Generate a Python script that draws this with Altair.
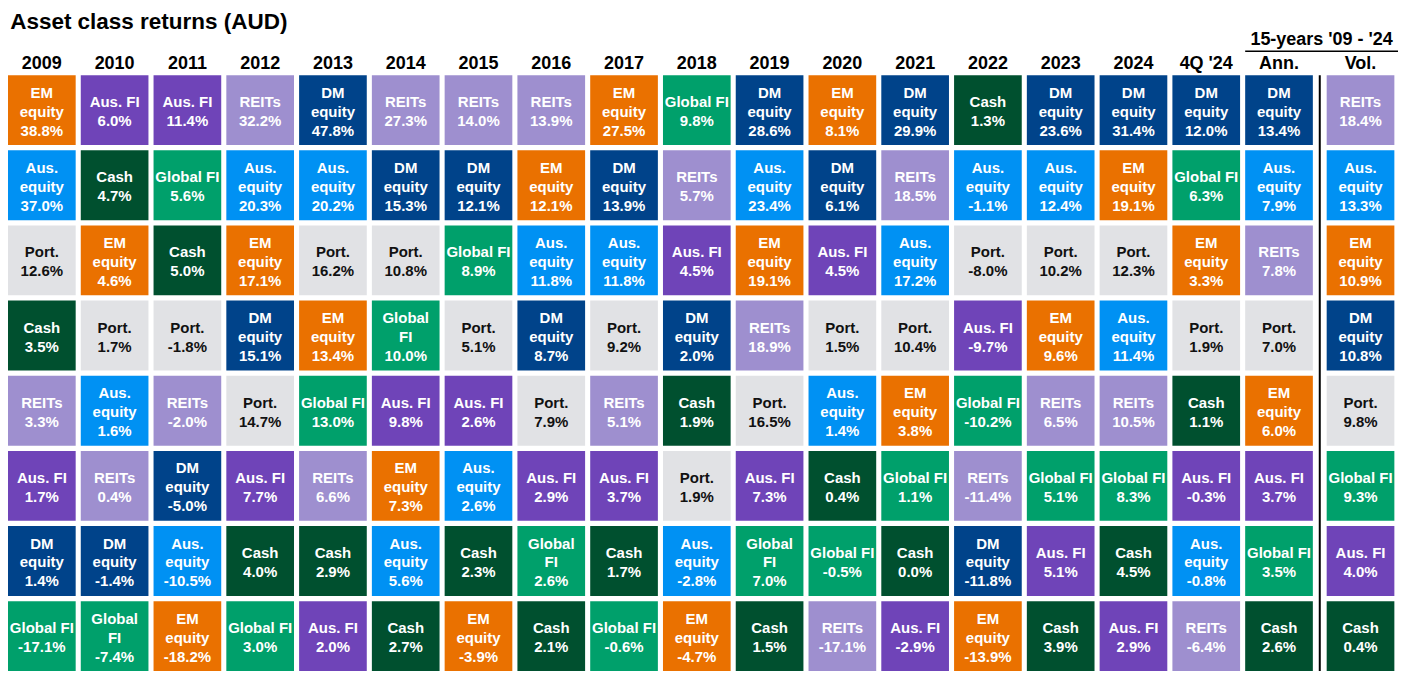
import altair as alt
import pandas as pd

columns = ["2009", "2010", "2011", "2012", "2013", "2014", "2015", "2016", "2017",
           "2018", "2019", "2020", "2021", "2022", "2023", "2024", "4Q '24", "Ann.", "Vol."]

classes = [
    ["EM equity", "Aus. equity", "Port.", "Cash", "REITs", "Aus. FI", "DM equity", "Global FI"],
    ["Aus. FI", "Cash", "EM equity", "Port.", "Aus. equity", "REITs", "DM equity", "Global FI"],
    ["Aus. FI", "Global FI", "Cash", "Port.", "REITs", "DM equity", "Aus. equity", "EM equity"],
    ["REITs", "Aus. equity", "EM equity", "DM equity", "Port.", "Aus. FI", "Cash", "Global FI"],
    ["DM equity", "Aus. equity", "Port.", "EM equity", "Global FI", "REITs", "Cash", "Aus. FI"],
    ["REITs", "DM equity", "Port.", "Global FI", "Aus. FI", "EM equity", "Aus. equity", "Cash"],
    ["REITs", "DM equity", "Global FI", "Port.", "Aus. FI", "Aus. equity", "Cash", "EM equity"],
    ["REITs", "EM equity", "Aus. equity", "DM equity", "Port.", "Aus. FI", "Global FI", "Cash"],
    ["EM equity", "DM equity", "Aus. equity", "Port.", "REITs", "Aus. FI", "Cash", "Global FI"],
    ["Global FI", "REITs", "Aus. FI", "DM equity", "Cash", "Port.", "Aus. equity", "EM equity"],
    ["DM equity", "Aus. equity", "EM equity", "REITs", "Port.", "Aus. FI", "Global FI", "Cash"],
    ["EM equity", "DM equity", "Aus. FI", "Port.", "Aus. equity", "Cash", "Global FI", "REITs"],
    ["DM equity", "REITs", "Aus. equity", "Port.", "EM equity", "Global FI", "Cash", "Aus. FI"],
    ["Cash", "Aus. equity", "Port.", "Aus. FI", "Global FI", "REITs", "DM equity", "EM equity"],
    ["DM equity", "Aus. equity", "Port.", "EM equity", "REITs", "Global FI", "Aus. FI", "Cash"],
    ["DM equity", "EM equity", "Port.", "Aus. equity", "REITs", "Global FI", "Cash", "Aus. FI"],
    ["DM equity", "Global FI", "EM equity", "Port.", "Cash", "Aus. FI", "Aus. equity", "REITs"],
    ["DM equity", "Aus. equity", "REITs", "Port.", "EM equity", "Aus. FI", "Global FI", "Cash"],
    ["REITs", "Aus. equity", "EM equity", "DM equity", "Port.", "Global FI", "Aus. FI", "Cash"],
]

values = [
    [38.8, 37.0, 12.6, 3.5, 3.3, 1.7, 1.4, -17.1],
    [6.0, 4.7, 4.6, 1.7, 1.6, 0.4, -1.4, -7.4],
    [11.4, 5.6, 5.0, -1.8, -2.0, -5.0, -10.5, -18.2],
    [32.2, 20.3, 17.1, 15.1, 14.7, 7.7, 4.0, 3.0],
    [47.8, 20.2, 16.2, 13.4, 13.0, 6.6, 2.9, 2.0],
    [27.3, 15.3, 10.8, 10.0, 9.8, 7.3, 5.6, 2.7],
    [14.0, 12.1, 8.9, 5.1, 2.6, 2.6, 2.3, -3.9],
    [13.9, 12.1, 11.8, 8.7, 7.9, 2.9, 2.6, 2.1],
    [27.5, 13.9, 11.8, 9.2, 5.1, 3.7, 1.7, -0.6],
    [9.8, 5.7, 4.5, 2.0, 1.9, 1.9, -2.8, -4.7],
    [28.6, 23.4, 19.1, 18.9, 16.5, 7.3, 7.0, 1.5],
    [8.1, 6.1, 4.5, 1.5, 1.4, 0.4, -0.5, -17.1],
    [29.9, 18.5, 17.2, 10.4, 3.8, 1.1, 0.0, -2.9],
    [1.3, -1.1, -8.0, -9.7, -10.2, -11.4, -11.8, -13.9],
    [23.6, 12.4, 10.2, 9.6, 6.5, 5.1, 5.1, 3.9],
    [31.4, 19.1, 12.3, 11.4, 10.5, 8.3, 4.5, 2.9],
    [12.0, 6.3, 3.3, 1.9, 1.1, -0.3, -0.8, -6.4],
    [13.4, 7.9, 7.8, 7.0, 6.0, 3.7, 3.5, 2.6],
    [18.4, 13.3, 10.9, 10.8, 9.8, 9.3, 4.0, 0.4],
]

# columns where the "Global FI" label wraps onto two lines
split_global = ["2010", "2014", "2016", "2019"]

class_names = ["EM equity", "Aus. equity", "DM equity", "Aus. FI", "REITs",
               "Cash", "Global FI", "Port."]
class_colors = ["#EA7100", "#0091F3", "#00438A", "#6F44B8", "#9E8FCF",
                "#00502F", "#00A06B", "#E1E2E5"]
short_labels = {"EM equity": "EM\nequity", "DM equity": "DM\nequity",
                "Aus. equity": "Aus.\nequity"}

PITCH_W = 0.93
PITCH_H = 0.93
ROW_PX = 75.2
LINE_PX = 19

rows = []
heads = []
for ci, col in enumerate(columns):
    pos = ci if col != "Vol." else ci + 0.12
    heads.append({"x": pos + PITCH_W / 2, "label": col})
    for ri, (cls, val) in enumerate(zip(classes[ci], values[ci])):
        name = short_labels.get(cls, cls)
        if cls == "Global FI" and col in split_global:
            name = "Global\nFI"
        label = f"{name}\n{val:.1f}%"
        nlines = label.count("\n") + 1
        rows.append({
            "col": col, "cls": cls, "val": val,
            "x0": pos, "x1": pos + PITCH_W,
            "y0": ri, "y1": ri + PITCH_H,
            "xc": pos + PITCH_W / 2,
            "yc": ri + PITCH_H / 2 + (1.5 - (nlines - 1) * LINE_PX / 2) / ROW_PX,
            "label": label,
            "tcolor": "#111111" if cls == "Port." else "#FFFFFF",
        })

df = pd.DataFrame(rows)
hdf = pd.DataFrame(heads)

xs = alt.Scale(domain=[0, 19.1], nice=False, zero=False)
ys = alt.Scale(domain=[-0.891, 7.939], nice=False, zero=False, reverse=True)
FONT = "Liberation Sans"

base = alt.Chart(df)

rects = base.mark_rect().encode(
    x=alt.X("x0:Q", scale=xs, axis=None),
    x2="x1:Q",
    y=alt.Y("y0:Q", scale=ys, axis=None),
    y2="y1:Q",
    color=alt.Color("cls:N", scale=alt.Scale(domain=class_names, range=class_colors), legend=None),
)

texts = base.mark_text(font=FONT, fontSize=15, fontWeight="bold", lineBreak="\n",
                       lineHeight=LINE_PX, baseline="middle", align="center").encode(
    x=alt.X("xc:Q", scale=xs),
    y=alt.Y("yc:Q", scale=ys),
    text="label:N",
    color=alt.Color("tcolor:N", scale=None),
)

headers = alt.Chart(hdf).mark_text(font=FONT, fontSize=18, fontWeight="bold",
                                    baseline="middle", align="center", color="#000000").encode(
    x=alt.X("x:Q", scale=xs),
    y=alt.value(56),
    text="label:N",
)

title_df = pd.DataFrame({"t": ["Asset class returns (AUD)"], "x": [0.03]})
title = alt.Chart(title_df).mark_text(font=FONT, fontSize=22.5, fontWeight="bold",
                                       baseline="middle", align="left", color="#000000").encode(
    x=alt.X("x:Q", scale=xs), y=alt.value(13.5), text="t:N")

sub_df = pd.DataFrame({"t": ["15-years '09 - '24"], "x": [18.05], "x0": [17.0], "x1": [19.1]})
sub = alt.Chart(sub_df).mark_text(font=FONT, fontSize=18, fontWeight="bold",
                                   baseline="middle", align="center", color="#000000").encode(
    x=alt.X("x:Q", scale=xs), y=alt.value(32), text="t:N")
underline = alt.Chart(sub_df).mark_rule(color="#000000", strokeWidth=1.5).encode(
    x=alt.X("x0:Q", scale=xs), x2="x1:Q", y=alt.value(43))

div_df = pd.DataFrame({"x": [18.025], "y0": [0.0], "y1": [7.93]})
divider = alt.Chart(div_df).mark_rule(color="#000000", strokeWidth=2).encode(
    x=alt.X("x:Q", scale=xs), y=alt.Y("y0:Q", scale=ys), y2="y1:Q")

chart = alt.layer(rects, texts, headers, title, sub, underline, divider).properties(
    width=1391, height=664, padding=0
).configure(background="#FFFFFF").configure_view(strokeWidth=0, stroke="transparent")

chart.save("out.html", embed_options={"renderer": "svg", "actions": False})
